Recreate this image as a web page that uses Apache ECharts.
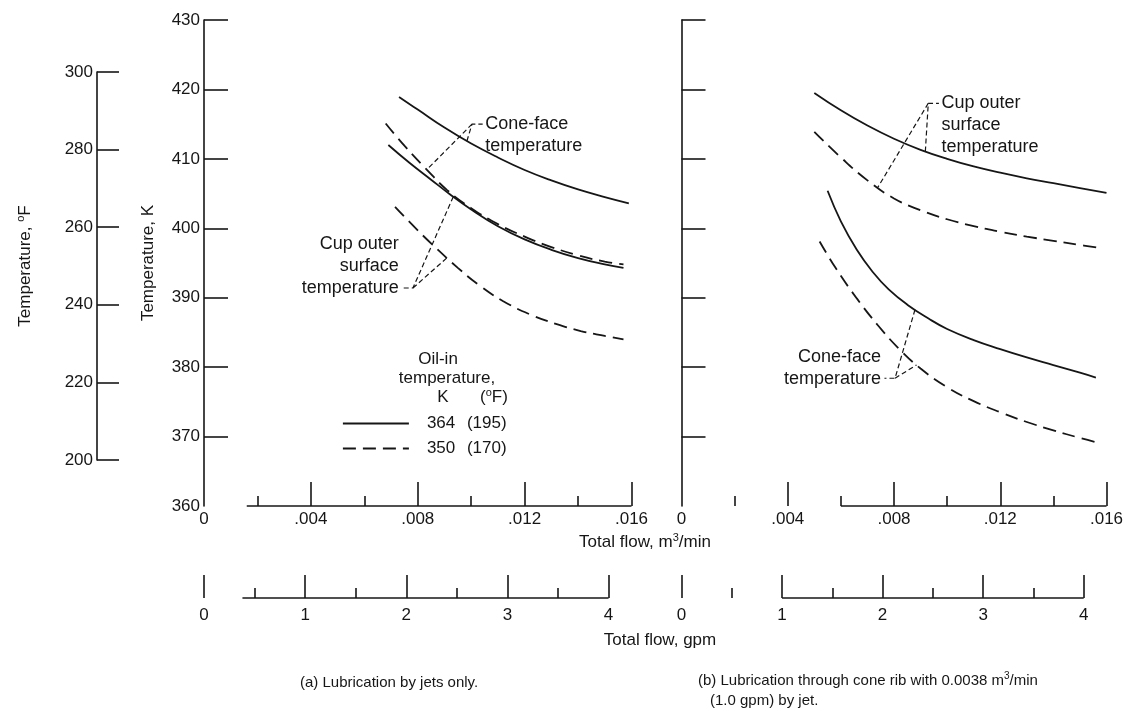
<!DOCTYPE html>
<html>
<head>
<meta charset="utf-8">
<script src="https://cdn.jsdelivr.net/npm/echarts@6/dist/echarts.min.js"></script>
<style>
  html, body { margin: 0; padding: 0; background: #fff; }
  #chart { width: 1131px; height: 711px; }
</style>
</head>
<body>
<div id="chart"></div>
<script>
// ---- Scales -------------------------------------------------------------
const kelvinTicks = [370, 380, 390, 400, 410, 420, 430];      // tick marks on the K axes
const kelvinLabels = [360, 370, 380, 390, 400, 410, 420, 430];
const fahrenheitTicks = [200, 220, 240, 260, 280, 300];
const flowTicks = [0.004, 0.008, 0.012, 0.016];              // m3/min, long ticks
const flowMinorTicks = [0.002, 0.006, 0.010, 0.014];
const flowLabels = [0, 0.004, 0.008, 0.012, 0.016];
const gpmTicks = [0, 1, 2, 3, 4];
const gpmMinorTicks = [0.5, 1.5, 2.5, 3.5];

// ---- Oil-in temperature (legend) ----------------------------------------
const oilInK = ['364', '350'];
const oilInF = ['195', '170'];

// ---- (a) Lubrication by jets only: total flow (m3/min) vs temperature (K)
const flowA_cone364 = [0.0073, 0.0080, 0.0090, 0.0100, 0.0110, 0.0120, 0.0130, 0.0140, 0.0150, 0.0159];
const tempA_cone364 = [418.9, 417.1, 414.5, 412.2, 410.2, 408.4, 406.9, 405.6, 404.5, 403.6];
const flowA_cone350 = [0.0068, 0.0075, 0.0083, 0.0091, 0.0100, 0.0110, 0.0120, 0.0130, 0.0140, 0.0150, 0.0157];
const tempA_cone350 = [415.1, 411.9, 408.6, 405.5, 402.9, 400.6, 398.8, 397.3, 396.1, 395.2, 394.8];
const flowA_cup364 = [0.0069, 0.0077, 0.0085, 0.0092, 0.0100, 0.0110, 0.0120, 0.0130, 0.0140, 0.0150, 0.0157];
const tempA_cup364 = [412.0, 409.4, 407.0, 404.9, 402.7, 400.3, 398.4, 396.9, 395.7, 394.8, 394.3];
const flowA_cup350 = [0.00715, 0.0080, 0.0087, 0.0095, 0.0103, 0.0112, 0.0122, 0.0132, 0.0141, 0.0150, 0.0157];
const tempA_cup350 = [403.1, 399.7, 397.1, 394.3, 391.8, 389.5, 387.6, 386.2, 385.2, 384.5, 384.0];

// ---- (b) Lubrication through cone rib + jet ------------------------------
const flowB_cup364 = [0.0050, 0.0060, 0.0070, 0.0080, 0.0090, 0.0100, 0.0110, 0.0120, 0.0130, 0.0140, 0.0150, 0.0160];
const tempB_cup364 = [419.5, 417.0, 414.8, 412.9, 411.3, 410.0, 408.9, 408.0, 407.2, 406.5, 405.8, 405.1];
const flowB_cup350 = [0.0050, 0.0060, 0.0070, 0.0080, 0.0090, 0.0100, 0.0110, 0.0120, 0.0130, 0.0140, 0.0150, 0.0157];
const tempB_cup350 = [413.9, 410.2, 406.9, 404.3, 402.6, 401.3, 400.3, 399.5, 398.8, 398.2, 397.6, 397.2];
const flowB_cone364 = [0.0055, 0.0060, 0.0066, 0.0072, 0.0078, 0.0085, 0.0093, 0.0100, 0.0110, 0.0120, 0.0130, 0.0140, 0.0150, 0.0156];
const tempB_cone364 = [405.4, 401.0, 396.9, 393.7, 391.2, 389.0, 387.0, 385.5, 383.9, 382.6, 381.4, 380.3, 379.2, 378.5];
const flowB_cone350 = [0.0052, 0.0058, 0.0066, 0.0074, 0.0082, 0.0090, 0.0100, 0.0110, 0.0120, 0.0130, 0.0140, 0.0150, 0.0157];
const tempB_cone350 = [398.1, 394.3, 389.9, 386.0, 382.6, 379.8, 377.1, 375.1, 373.5, 372.1, 370.9, 369.8, 369.1];

// ---- Styling / layout -----------------------------------------------------
const INK = '#161616';
const FONT = "'Liberation Sans', Arial, 'DejaVu Sans', sans-serif";
const FS = 17;       // tick labels, axis names
const NOTE_FS = 18;  // curve callouts
const GPM_PER_M3MIN = 1 / 0.0037854;   // 1 gpm = 0.0037854 m3/min
const FLOW_MAX = 0.016;
const AXIS_W = 1.6;

const flowLabel = v => (v === 0 ? '0' : '.' + v.toFixed(3).slice(2));

function interp(xs, ys, x) {
  for (let i = 0; i < xs.length - 1; i++) {
    if (x >= xs[i] && x <= xs[i + 1]) {
      const t = (x - xs[i]) / (xs[i + 1] - xs[i]);
      return ys[i] + t * (ys[i + 1] - ys[i]);
    }
  }
  return x < xs[0] ? ys[0] : ys[ys.length - 1];
}

// panel index -> axis indices of the temperature/flow grid
const PANEL_AXES = [{ x: 1, y: 1 }, { x: 3, y: 2 }];

function curve(name, panel, xs, ys) {
  const dashed = name === oilInK[1];
  return {
    type: 'line', name, xAxisIndex: PANEL_AXES[panel].x, yAxisIndex: PANEL_AXES[panel].y,
    data: xs.map((x, i) => [x, ys[i]]),
    smooth: 0.45, symbol: 'none', silent: true, z: 3,
    itemStyle: { color: INK },
    lineStyle: { color: INK, width: 1.8, type: dashed ? [13, 7] : 'solid' }
  };
}

// Callout: dashed leaders from a vertex to two curves, plus a text block
function callout(panel, vertex, side, targets, text) {
  const ax = PANEL_AXES[panel];
  const stubLen = 0.0004 * (side === 'right' ? 1 : -1);
  const stubEnd = [vertex[0] + stubLen, vertex[1]];
  const pts = targets.map(t => [t.at, interp(t.xs, t.ys, t.at)]);
  const leaderStyle = { color: INK, width: 1.2, type: [5, 3] };
  const base = { type: 'line', xAxisIndex: ax.x, yAxisIndex: ax.y, symbol: 'none', silent: true, z: 2, lineStyle: leaderStyle };
  const lh = 22;
  return [
    Object.assign({}, base, { data: [pts[0], vertex, stubEnd] }),
    Object.assign({}, base, { data: [vertex, pts[1]] }),
    {
      type: 'scatter', xAxisIndex: ax.x, yAxisIndex: ax.y, silent: true, z: 4,
      data: [stubEnd], symbolSize: 1, itemStyle: { color: 'rgba(0,0,0,0)' },
      label: {
        show: true, formatter: text, color: INK, fontFamily: FONT, fontSize: NOTE_FS, lineHeight: lh,
        textBorderWidth: 0, opacity: 1,
        position: side === 'right' ? [3, -lh / 2] : [-3, lh / 2 + 1],
        align: side === 'right' ? 'left' : 'right',
        verticalAlign: side === 'right' ? 'top' : 'bottom'
      }
    }
  ];
}

// A visible axis line that covers only part of the flow range
function axisSpan(xAxisIndex, yAxisIndex, from, to, y) {
  return {
    type: 'line', xAxisIndex, yAxisIndex, symbol: 'none', silent: true, clip: false, z: 5,
    data: [[from, y], [to, y]], lineStyle: { color: INK, width: AXIS_W }
  };
}

function flowAxis(gridIndex, major) {
  return {
    type: 'value', gridIndex, min: 0, max: FLOW_MAX, position: 'bottom',
    axisLine: { show: false }, splitLine: { show: false },
    axisTick: {
      show: true, inside: true, length: major ? 24 : 10,
      customValues: major ? flowTicks : flowMinorTicks,
      lineStyle: { color: INK, width: AXIS_W }
    },
    axisLabel: major ? {
      show: true, customValues: flowLabels, formatter: flowLabel, margin: 5,
      color: INK, fontFamily: FONT, fontSize: FS
    } : { show: false }
  };
}

function gpmAxis(gridIndex, major) {
  return {
    type: 'value', gridIndex, min: 0, max: FLOW_MAX * GPM_PER_M3MIN, position: 'bottom',
    axisLine: { show: false }, splitLine: { show: false },
    axisTick: {
      show: true, inside: true, length: major ? 23 : 10,
      customValues: major ? gpmTicks : gpmMinorTicks,
      lineStyle: { color: INK, width: AXIS_W }
    },
    axisLabel: major ? {
      show: true, customValues: gpmTicks, formatter: v => String(v), margin: 9,
      color: INK, fontFamily: FONT, fontSize: FS
    } : { show: false }
  };
}

function kelvinAxis(gridIndex, withLabels) {
  return {
    type: 'value', gridIndex, min: 360, max: 430, interval: 10, position: 'left',
    axisLine: { show: true, lineStyle: { color: INK, width: AXIS_W } },
    splitLine: { show: false },
    axisTick: { show: true, inside: true, length: 24, customValues: kelvinTicks, lineStyle: { color: INK, width: AXIS_W } },
    axisLabel: withLabels ? { show: true, customValues: kelvinLabels, margin: 4, color: INK, fontFamily: FONT, fontSize: FS } : { show: false },
    name: withLabels ? 'Temperature, K' : '',
    nameLocation: 'middle', nameRotate: 90, nameGap: 47,
    nameTextStyle: { color: INK, fontFamily: FONT, fontSize: FS }
  };
}

const hiddenX = g => ({ type: 'value', gridIndex: g, show: false, min: 0, max: 1 });
const hiddenY = g => ({ type: 'value', gridIndex: g, show: false, min: 0, max: 1 });

const GRID_TOP = 20, GRID_H = 486;
const grids = [
  { left: 97, top: 72, width: 10, height: 388 },                 // deg F scale
  { left: 204, top: GRID_TOP, width: 427.5, height: GRID_H },    // (a)
  { left: 681.5, top: GRID_TOP, width: 425, height: GRID_H },    // (b)
  { left: 204, top: 560, width: 427.5, height: 38 },             // (a) gpm
  { left: 681.5, top: 560, width: 425, height: 38 }              // (b) gpm
].map(g => Object.assign({ outerBoundsMode: 'none', containLabel: false }, g));

const xAxes = [
  hiddenX(0),
  flowAxis(1, true), flowAxis(1, false),
  flowAxis(2, true), flowAxis(2, false),
  gpmAxis(3, true), gpmAxis(3, false),
  gpmAxis(4, true), gpmAxis(4, false)
];

const yAxes = [
  {
    type: 'value', gridIndex: 0, min: 200, max: 300, interval: 20, position: 'left',
    axisLine: { show: true, lineStyle: { color: INK, width: AXIS_W } },
    splitLine: { show: false },
    axisTick: { show: true, inside: true, length: 22, customValues: fahrenheitTicks, lineStyle: { color: INK, width: AXIS_W } },
    axisLabel: { show: true, customValues: fahrenheitTicks, margin: 4, color: INK, fontFamily: FONT, fontSize: FS },
    name: '{t|Temperature, }{s|o}{t|F}', nameLocation: 'middle', nameRotate: 90, nameGap: 62,
    nameTextStyle: {
      color: INK, fontFamily: FONT, fontSize: FS,
      rich: {
        t: { fontFamily: FONT, fontSize: FS, color: INK, lineHeight: 20 },
        s: { fontFamily: FONT, fontSize: 11, color: INK, verticalAlign: 'top', lineHeight: 20 }
      }
    }
  },
  kelvinAxis(1, true),
  kelvinAxis(2, false),
  hiddenY(3),
  hiddenY(4)
];

const series = [
  curve(oilInK[0], 0, flowA_cone364, tempA_cone364),
  curve(oilInK[1], 0, flowA_cone350, tempA_cone350),
  curve(oilInK[0], 0, flowA_cup364, tempA_cup364),
  curve(oilInK[1], 0, flowA_cup350, tempA_cup350),
  curve(oilInK[0], 1, flowB_cup364, tempB_cup364),
  curve(oilInK[1], 1, flowB_cup350, tempB_cup350),
  curve(oilInK[0], 1, flowB_cone364, tempB_cone364),
  curve(oilInK[1], 1, flowB_cone350, tempB_cone350),

  ...callout(0, [0.01003, 415.0], 'right',
    [{ xs: flowA_cone364, ys: tempA_cone364, at: 0.00984 }, { xs: flowA_cone350, ys: tempA_cone350, at: 0.00834 }],
    'Cone-face\ntemperature'),
  ...callout(0, [0.00782, 391.4], 'left',
    [{ xs: flowA_cup364, ys: tempA_cup364, at: 0.00933 }, { xs: flowA_cup350, ys: tempA_cup350, at: 0.00909 }],
    'Cup outer\nsurface\ntemperature'),
  ...callout(1, [0.00929, 418.0], 'right',
    [{ xs: flowB_cup364, ys: tempB_cup364, at: 0.00918 }, { xs: flowB_cup350, ys: tempB_cup350, at: 0.00739 }],
    'Cup outer\nsurface\ntemperature'),
  ...callout(1, [0.00804, 378.4], 'left',
    [{ xs: flowB_cone364, ys: tempB_cone364, at: 0.00879 }, { xs: flowB_cone350, ys: tempB_cone350, at: 0.00885 }],
    'Cone-face\ntemperature'),

  // partial axis lines
  axisSpan(1, 1, 0.0016, FLOW_MAX, 360),
  axisSpan(3, 2, 0.006, FLOW_MAX, 360),
  axisSpan(5, 3, 0.38, 4, 0),
  axisSpan(7, 4, 1, 4, 0)
];

const supRich = {
  t: { fontFamily: FONT, fontSize: FS, fill: INK, lineHeight: 20 },
  s: { fontFamily: FONT, fontSize: 11, fill: INK, verticalAlign: 'top', lineHeight: 20 },
  c: { fontFamily: FONT, fontSize: 15, fill: INK, lineHeight: 19 },
  cs: { fontFamily: FONT, fontSize: 10, fill: INK, verticalAlign: 'top', lineHeight: 19 }
};

function label(x, y, text, align) {
  return {
    type: 'text', x, y, silent: true,
    style: { text, rich: supRich, align: align || 'center', verticalAlign: 'middle', fill: INK, font: FS + 'px ' + FONT }
  };
}

const graphics = [
  label(645, 542, '{t|Total flow, m}{s|3}{t|/min}'),
  label(660, 640, '{t|Total flow, gpm}'),
  label(438, 359, '{t|Oil-in}'),
  label(447, 378, '{t|temperature,}'),
  label(443, 397, '{t|K}'),
  label(480, 397, '{t|(}{s|o}{t|F)}', 'left'),
  label(300, 683, '{c|(a) Lubrication by jets only.}', 'left'),
  label(698, 681, '{c|(b) Lubrication through cone rib with 0.0038 m}{cs|3}{c|/min}', 'left'),
  label(710, 701, '{c|(1.0 gpm) by jet.}', 'left')
];

const chart = echarts.init(document.getElementById('chart'), null, { renderer: 'canvas' });
chart.setOption({
  animation: false,
  backgroundColor: '#ffffff',
  textStyle: { fontFamily: FONT, color: INK },
  grid: grids,
  xAxis: xAxes,
  yAxis: yAxes,
  legend: {
    data: oilInK, orient: 'vertical', left: 342, top: 415, padding: 0,
    itemWidth: 66, itemHeight: 14, itemGap: 8, selectedMode: false,
    itemStyle: { color: 'rgba(0,0,0,0)', borderColor: 'rgba(0,0,0,0)', borderWidth: 0 },
    lineStyle: { color: INK, width: 1.8 },
    formatter: name => `{k|${name}}{f|(${oilInF[oilInK.indexOf(name)]})}`,
    textStyle: {
      color: INK, fontFamily: FONT, fontSize: FS,
      rich: {
        k: { fontFamily: FONT, fontSize: FS, color: INK, width: 40, padding: [0, 0, 0, 13] },
        f: { fontFamily: FONT, fontSize: FS, color: INK }
      }
    }
  },
  graphic: graphics,
  series
});
</script>
</body>
</html>
